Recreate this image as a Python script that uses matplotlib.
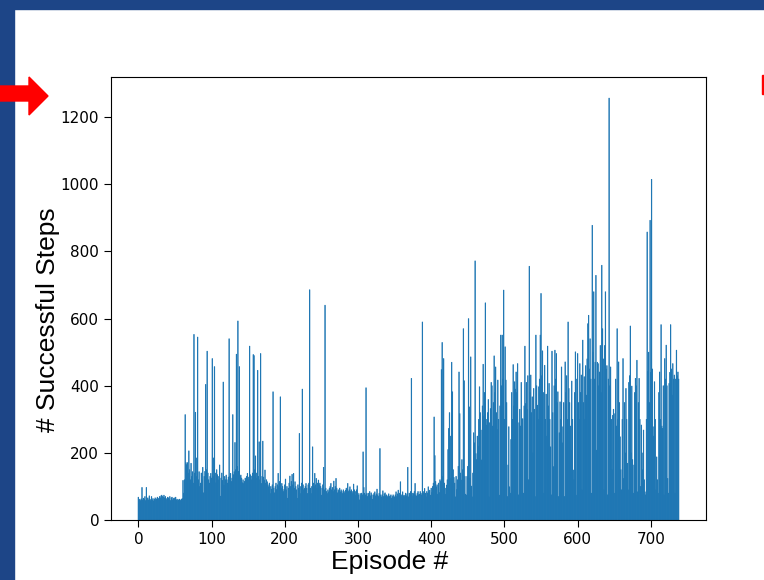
import numpy as np
import matplotlib
matplotlib.use('Agg')
import matplotlib.pyplot as plt
from matplotlib.patches import Rectangle, Polygon

# число успешных шагов по эпизодам (по 100 эпизодов)
steps_0 = [68, 60, 62, 58, 63, 97, 60, 65, 62, 70, 58, 97, 64, 66, 60, 72, 62, 58, 70, 60,
           64, 57, 62, 66, 60, 63, 68, 62, 65, 70, 66, 72, 74, 70, 68, 74, 66, 70, 64, 60,
           68, 66, 62, 70, 58, 66, 68, 60, 64, 66, 62, 68, 60, 62, 58, 60, 62, 57, 60, 62,
           64, 118, 80, 120, 314, 171, 165, 171, 140, 206, 150, 120, 169, 130, 144, 110, 553, 140, 321, 185,
           130, 545, 120, 144, 100, 110, 140, 120, 157, 81, 130, 145, 404, 150, 503, 140, 120, 110, 130, 139]
steps_1 = [125, 481, 130, 185, 457, 140, 111, 150, 135, 120, 130, 164, 71, 125, 140, 118, 411, 104, 130, 120,
           134, 120, 110, 128, 540, 130, 139, 115, 125, 314, 135, 144, 231, 150, 494, 160, 593, 145, 457, 130,
           134, 125, 111, 120, 109, 115, 125, 119, 130, 139, 128, 120, 518, 135, 131, 120, 140, 493, 490, 150,
           191, 140, 125, 446, 130, 233, 120, 496, 109, 130, 235, 128, 119, 149, 110, 120, 114, 105, 99, 110,
           79, 100, 92, 105, 382, 95, 81, 100, 110, 91, 105, 139, 100, 115, 367, 95, 109, 100, 85, 91]
steps_2 = [105, 122, 90, 100, 65, 95, 110, 131, 100, 115, 136, 105, 139, 95, 114, 100, 90, 65, 105, 95,
           258, 100, 79, 110, 390, 105, 90, 94, 100, 109, 95, 79, 105, 110, 686, 95, 79, 100, 218, 110,
           100, 139, 105, 124, 95, 110, 119, 105, 110, 100, 74, 95, 105, 157, 90, 640, 95, 85, 79, 90,
           84, 95, 100, 109, 90, 97, 85, 116, 90, 100, 124, 95, 81, 90, 85, 95, 84, 90, 85, 79,
           90, 85, 80, 89, 95, 90, 109, 85, 90, 99, 85, 90, 79, 85, 107, 90, 74, 85, 90, 102]
steps_3 = [80, 75, 60, 79, 72, 80, 75, 203, 97, 80, 75, 394, 79, 70, 80, 74, 85, 72, 81, 75,
           62, 75, 80, 84, 72, 78, 92, 75, 70, 80, 213, 75, 69, 75, 87, 70, 78, 81, 72, 75,
           69, 72, 78, 70, 72, 75, 65, 70, 75, 71, 68, 75, 84, 70, 78, 89, 72, 80, 114, 75,
           70, 84, 72, 74, 70, 80, 72, 78, 157, 69, 80, 75, 85, 422, 80, 72, 79, 85, 109, 75,
           71, 80, 85, 75, 77, 85, 80, 75, 590, 80, 85, 94, 80, 69, 85, 80, 99, 85, 89, 74]
steps_4 = [95, 82, 100, 110, 307, 192, 115, 99, 105, 77, 110, 82, 120, 115, 448, 529, 130, 481, 110, 95,
           77, 104, 120, 210, 273, 320, 250, 124, 470, 382, 150, 127, 110, 69, 130, 91, 120, 160, 441, 317,
           140, 119, 180, 150, 570, 415, 130, 77, 74, 130, 160, 600, 337, 125, 486, 101, 69, 140, 260, 230,
           772, 198, 180, 250, 220, 300, 397, 320, 268, 179, 340, 464, 310, 380, 647, 300, 283, 320, 359, 69,
           290, 332, 410, 400, 280, 350, 489, 380, 456, 320, 270, 417, 300, 74, 340, 551, 400, 551, 420, 685]
steps_5 = [300, 516, 417, 350, 70, 164, 278, 99, 80, 240, 380, 300, 463, 340, 412, 390, 441, 380, 466, 75,
           290, 330, 280, 410, 300, 302, 80, 340, 518, 347, 410, 330, 430, 120, 756, 380, 432, 320, 367, 200,
           392, 330, 70, 551, 400, 342, 300, 397, 420, 551, 675, 430, 504, 380, 80, 461, 300, 375, 250, 518,
           340, 407, 300, 218, 75, 503, 320, 159, 400, 506, 420, 496, 350, 382, 70, 260, 352, 300, 456, 230,
           278, 350, 70, 471, 380, 430, 300, 590, 392, 350, 280, 208, 414, 300, 149, 120, 380, 501, 74, 420]
steps_6 = [496, 350, 300, 466, 380, 432, 90, 536, 350, 427, 300, 460, 372, 480, 585, 610, 450, 540, 420, 80,
           878, 500, 680, 420, 470, 729, 208, 470, 466, 400, 441, 520, 380, 759, 570, 480, 90, 520, 680, 450,
           460, 75, 420, 1257, 400, 456, 300, 150, 312, 330, 80, 317, 420, 280, 570, 300, 471, 350, 248, 150,
           90, 300, 481, 124, 350, 200, 392, 300, 169, 90, 410, 430, 578, 200, 399, 180, 80, 164, 380, 422,
           400, 476, 84, 350, 422, 300, 100, 283, 200, 150, 268, 120, 84, 75, 300, 858, 443, 500, 350, 893]
steps_7 = [440, 1015, 450, 278, 250, 412, 300, 90, 188, 120, 80, 380, 441, 300, 582, 280, 273, 400, 75, 481,
           420, 521, 400, 124, 80, 407, 440, 582, 450, 372, 466, 420, 432, 80, 420, 506, 430, 441, 420]

steps = steps_0 + steps_1 + steps_2 + steps_3 + steps_4 + steps_5 + steps_6 + steps_7
episodes = np.arange(len(steps))

W, H = 764, 580
fig = plt.figure(figsize=(W / 100, H / 100), dpi=100)

# рамка слайда
fig.patches.append(Rectangle((0, 1 - 9 / H), 1, 9 / H, transform=fig.transFigure,
                             color='#1d4587', zorder=0))
fig.patches.append(Rectangle((0, 0), 13.5 / W, 1, transform=fig.transFigure,
                             color='#1d4587', zorder=0))

# красная стрелка слева и кусочек справа
arrow = [(0, 86), (29, 86), (29, 77), (48, 96), (29, 115), (29, 101), (0, 101)]
fig.patches.append(Polygon([(x / W, 1 - y / H) for x, y in arrow], closed=True,
                           transform=fig.transFigure, color='#ff0000', zorder=5))
fig.patches.append(Rectangle((762 / W, 1 - 94 / H), 3 / W, 19 / H, transform=fig.transFigure,
                             color='#ff0000', zorder=5))

ax = fig.add_axes([111 / W, 60 / H, 595 / W, 443 / H])
# snap=False, иначе тонкие столбики пропадают
ax.bar(episodes, steps, color='#1f77b4', edgecolor='#1f77b4', linewidth=0.45, snap=False)
ax.set_xticks(range(0, 701, 100))
ax.set_yticks(range(0, 1201, 200))
ax.tick_params(labelsize=11, length=5)

fig.text(390 / W, 1 - 562 / H, 'Episode #', ha='center', va='center',
         family='Liberation Sans', fontsize=19)
fig.text(48 / W, 1 - 320 / H, '# Successful Steps', ha='center', va='center',
         rotation=90, family='Liberation Sans', fontsize=19)

fig.savefig('out.png', dpi=100)
